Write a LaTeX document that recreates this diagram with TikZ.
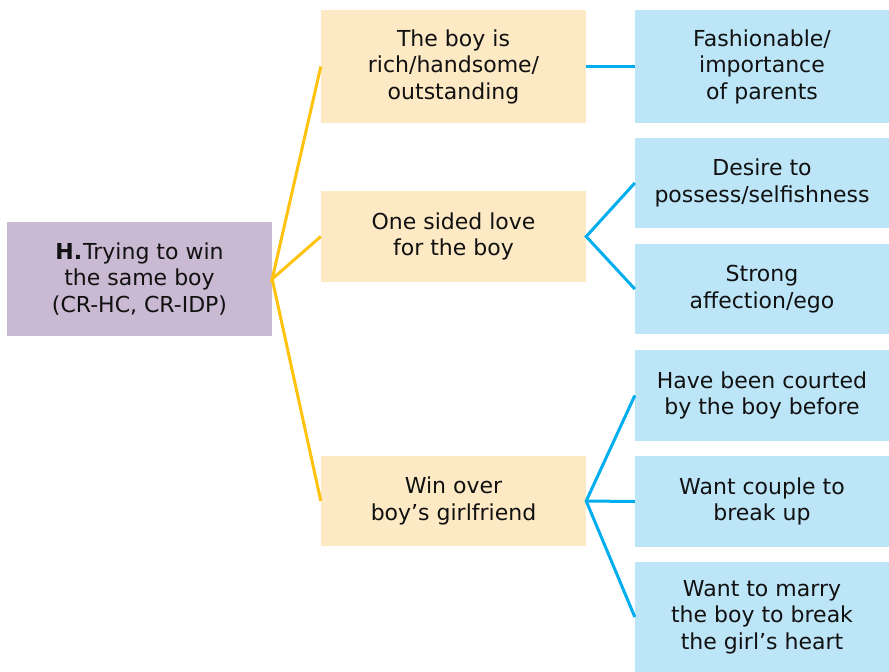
\documentclass[tikz,border=0pt]{standalone}
\usepackage{fontspec}
\setmainfont{DejaVu Sans}
\definecolor{purplebox}{HTML}{C9B9D2}
\definecolor{yellowbox}{HTML}{FDE9C4}
\definecolor{bluebox}{HTML}{BCE5F8}
\definecolor{yellowline}{HTML}{FFC20E}
\definecolor{blueline}{HTML}{00AEEF}
\definecolor{textc}{HTML}{111111}
\begin{document}
\begin{tikzpicture}[x=1pt,y=-1pt,
  box/.style={rectangle, inner sep=0pt, align=center, text=textc,
    font=\fontsize{22}{26.5}\selectfont},
  pbox/.style={box, fill=purplebox, minimum width=265pt},
  ybox/.style={box, fill=yellowbox, minimum width=265pt},
  bbox/.style={box, fill=bluebox, minimum width=254pt},
  yline/.style={draw=yellowline, line width=3pt},
  bline/.style={draw=blueline, line width=3pt}]
\useasboundingbox (0,0) rectangle (889,672);

\node[pbox, minimum height=114pt] (P) at (139.5,279) {\textbf{H.}\kern1pt Trying to win\\the same boy\\(CR-HC, CR-IDP)};

\node[ybox, minimum height=113pt] (Y1) at (453.5,66.5) {The boy is\\rich/handsome/\\outstanding};
\node[ybox, minimum height=91pt] (Y2) at (453.5,236.5) {One sided love\\for the boy};
\node[ybox, minimum height=90pt] (Y3) at (453.5,501) {Win over\\boy’s girlfriend};

\node[bbox, minimum height=113pt] (B1) at (762,66.5) {Fashionable/\\importance\\of parents};
\node[bbox, minimum height=90pt] (B2) at (762,183) {Desire to\\possess/selfishness};
\node[bbox, minimum height=90pt] (B3) at (762,289) {Strong\\affection/ego};
\node[bbox, minimum height=91pt] (B4) at (762,395.5) {Have been courted\\by the boy before};
\node[bbox, minimum height=91pt] (B5) at (762,501.5) {Want couple to\\break up};
\node[bbox, minimum height=110pt] (B6) at (762,617) {Want to marry\\the boy to break\\the girl’s heart};

\draw[yline, line join=miter] (Y1.west) -- (P.east) -- (Y2.west);
\draw[yline] (P.east) -- (Y3.west);

\draw[bline] (Y1.east) -- (B1.west);
\draw[bline] (B2.west) -- (Y2.east) -- (B3.west);
\draw[bline] (B4.west) -- (Y3.east) -- (B6.west);
\draw[bline] (Y3.east) -- (B5.west);
\end{tikzpicture}
\end{document}
